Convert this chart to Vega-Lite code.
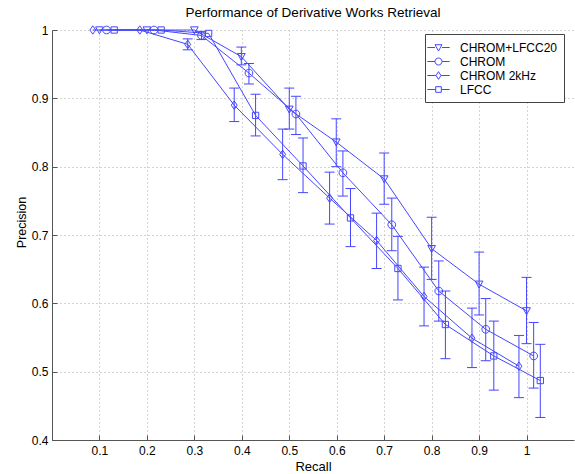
{
  "$schema": "https://vega.github.io/schema/vega-lite/v6.json",
  "width": 522,
  "height": 410,
  "autosize": {"type": "none"},
  "padding": {"left": 52, "top": 30, "right": 1, "bottom": 34},
  "background": "white",
  "title": {"text": "Performance of Derivative Works Retrieval", "font": "Liberation Sans", "fontSize": 13.5, "fontWeight": "normal", "color": "black", "offset": 4, "anchor": "middle"},
  "config": {
    "view": {"stroke": null},
    "axis": {"labelFont": "Liberation Sans", "titleFont": "Liberation Sans", "labelFontSize": 12, "titleFontSize": 13, "titleFontWeight": "normal", "labelColor": "black", "titleColor": "black", "domainColor": "#555", "tickColor": "#555", "gridColor": "#aaa", "gridDash": [1, 3], "gridWidth": 1}
  },
  "data": {"values": [
    {"series": "CHROM+LFCC20", "recall": 0.1, "precision": 1.0},
    {"series": "CHROM+LFCC20", "recall": 0.2, "precision": 1.0},
    {"series": "CHROM+LFCC20", "recall": 0.3, "precision": 1.0},
    {"series": "CHROM+LFCC20", "recall": 0.399, "precision": 0.961, "lo": 0.949, "hi": 0.975},
    {"series": "CHROM+LFCC20", "recall": 0.5, "precision": 0.884, "lo": 0.855, "hi": 0.915},
    {"series": "CHROM+LFCC20", "recall": 0.599, "precision": 0.836, "lo": 0.8, "hi": 0.87},
    {"series": "CHROM+LFCC20", "recall": 0.7, "precision": 0.782, "lo": 0.745, "hi": 0.82},
    {"series": "CHROM+LFCC20", "recall": 0.8, "precision": 0.68, "lo": 0.635, "hi": 0.726},
    {"series": "CHROM+LFCC20", "recall": 0.9, "precision": 0.628, "lo": 0.583, "hi": 0.675},
    {"series": "CHROM+LFCC20", "recall": 1.0, "precision": 0.589, "lo": 0.541, "hi": 0.638},
    {"series": "CHROM", "recall": 0.115, "precision": 1.0},
    {"series": "CHROM", "recall": 0.215, "precision": 1.0},
    {"series": "CHROM", "recall": 0.315, "precision": 0.992, "lo": 0.986, "hi": 0.998},
    {"series": "CHROM", "recall": 0.415, "precision": 0.937, "lo": 0.921, "hi": 0.951},
    {"series": "CHROM", "recall": 0.514, "precision": 0.877, "lo": 0.847, "hi": 0.903},
    {"series": "CHROM", "recall": 0.613, "precision": 0.791, "lo": 0.757, "hi": 0.823},
    {"series": "CHROM", "recall": 0.716, "precision": 0.715, "lo": 0.677, "hi": 0.754},
    {"series": "CHROM", "recall": 0.815, "precision": 0.618, "lo": 0.574, "hi": 0.662},
    {"series": "CHROM", "recall": 0.914, "precision": 0.562, "lo": 0.516, "hi": 0.607},
    {"series": "CHROM", "recall": 1.015, "precision": 0.523, "lo": 0.476, "hi": 0.572},
    {"series": "CHROM 2kHz", "recall": 0.086, "precision": 1.0},
    {"series": "CHROM 2kHz", "recall": 0.185, "precision": 1.0},
    {"series": "CHROM 2kHz", "recall": 0.286, "precision": 0.979, "lo": 0.971, "hi": 0.987},
    {"series": "CHROM 2kHz", "recall": 0.384, "precision": 0.89, "lo": 0.866, "hi": 0.915},
    {"series": "CHROM 2kHz", "recall": 0.486, "precision": 0.818, "lo": 0.781, "hi": 0.855},
    {"series": "CHROM 2kHz", "recall": 0.585, "precision": 0.754, "lo": 0.716, "hi": 0.792},
    {"series": "CHROM 2kHz", "recall": 0.684, "precision": 0.692, "lo": 0.651, "hi": 0.732},
    {"series": "CHROM 2kHz", "recall": 0.784, "precision": 0.61, "lo": 0.567, "hi": 0.653},
    {"series": "CHROM 2kHz", "recall": 0.885, "precision": 0.549, "lo": 0.506, "hi": 0.593},
    {"series": "CHROM 2kHz", "recall": 0.984, "precision": 0.508, "lo": 0.462, "hi": 0.553},
    {"series": "LFCC", "recall": 0.131, "precision": 1.0},
    {"series": "LFCC", "recall": 0.23, "precision": 1.0},
    {"series": "LFCC", "recall": 0.33, "precision": 0.995},
    {"series": "LFCC", "recall": 0.429, "precision": 0.875, "lo": 0.845, "hi": 0.906},
    {"series": "LFCC", "recall": 0.529, "precision": 0.801, "lo": 0.762, "hi": 0.842},
    {"series": "LFCC", "recall": 0.629, "precision": 0.725, "lo": 0.683, "hi": 0.768},
    {"series": "LFCC", "recall": 0.729, "precision": 0.651, "lo": 0.605, "hi": 0.698},
    {"series": "LFCC", "recall": 0.829, "precision": 0.569, "lo": 0.519, "hi": 0.618},
    {"series": "LFCC", "recall": 0.931, "precision": 0.523, "lo": 0.473, "hi": 0.574},
    {"series": "LFCC", "recall": 1.029, "precision": 0.487, "lo": 0.433, "hi": 0.54}
  ]},
  "encoding": {
    "x": {"field": "recall", "type": "quantitative", "scale": {"domain": [0, 1.1], "nice": false, "zero": false},
      "axis": {"title": "Recall", "values": [0.1, 0.2, 0.3, 0.4, 0.5, 0.6, 0.7, 0.8, 0.9, 1.0], "format": ".1~f", "grid": true, "tickSize": -5, "labelPadding": 10, "titlePadding": 4}}
  },
  "layer": [
    {
      "mark": {"type": "line", "stroke": "#4545ff", "strokeWidth": 1},
      "encoding": {
        "y": {"field": "precision", "type": "quantitative", "scale": {"domain": [0.4, 1.0], "nice": false, "zero": false},
          "axis": {"title": "Precision", "titleFontSize": 12.5, "titleY": 192, "values": [0.4, 0.5, 0.6, 0.7, 0.8, 0.9, 1.0], "format": ".1~f", "grid": true, "tickSize": -5, "labelPadding": 9, "titlePadding": 3}},
        "detail": {"field": "series", "type": "nominal"},
        "order": {"field": "recall", "type": "quantitative"}
      }
    },
    {
      "transform": [{"filter": "isValid(datum.lo)"}],
      "mark": {"type": "rule", "stroke": "#4545ff", "strokeWidth": 1},
      "encoding": {"y": {"field": "lo", "type": "quantitative"}, "y2": {"field": "hi"}}
    },
    {
      "transform": [{"filter": "isValid(datum.lo)"}],
      "mark": {"type": "tick", "orient": "horizontal", "color": "#4545ff", "size": 10, "thickness": 1, "opacity": 1},
      "encoding": {"y": {"field": "lo", "type": "quantitative"}}
    },
    {
      "transform": [{"filter": "isValid(datum.lo)"}],
      "mark": {"type": "tick", "orient": "horizontal", "color": "#4545ff", "size": 10, "thickness": 1, "opacity": 1},
      "encoding": {"y": {"field": "hi", "type": "quantitative"}}
    },
    {
      "mark": {"type": "point", "filled": false, "stroke": "#4545ff", "strokeWidth": 1, "size": 196, "opacity": 1},
      "encoding": {
        "y": {"field": "precision", "type": "quantitative"},
        "shape": {"field": "series", "type": "nominal", "legend": null,
          "scale": {"domain": ["CHROM+LFCC20", "CHROM", "CHROM 2kHz", "LFCC"],
            "range": ["M-0.55,-0.45H0.55L0,0.55Z", "M0.55,0A0.55,0.55,0,1,1,-0.55,0A0.55,0.55,0,1,1,0.55,0Z", "M0,-0.6L0.42,0L0,0.6L-0.42,0Z", "M-0.45,-0.45H0.45V0.45H-0.45Z"]}}
      }
    },
    {
      "mark": {"type": "point", "filled": false, "stroke": "#4545ff", "strokeWidth": 1, "size": 196, "strokeOpacity": 0},
      "encoding": {
        "y": {"field": "precision", "type": "quantitative"},
        "shape": {"field": "series", "type": "nominal",
          "scale": {"domain": ["CHROM+LFCC20", "CHROM", "CHROM 2kHz", "LFCC"],
            "range": ["M-1.6,0H-0.5M0.5,0H1.6M-0.5,-0.4H0.5L0,0.5Z", "M-1.6,0H-0.5M0.5,0H1.6M0.5,0A0.5,0.5,0,1,1,-0.5,0A0.5,0.5,0,1,1,0.5,0Z", "M-1.6,0H-0.35M0.35,0H1.6M0,-0.55L0.35,0L0,0.55L-0.35,0Z", "M-1.6,0H-0.4M0.4,0H1.6M-0.4,-0.4H0.4V0.4H-0.4Z"]},
          "legend": {"title": null, "orient": "none", "legendX": 373, "legendY": 4, "strokeColor": "#444", "fillColor": "white", "padding": 6, "symbolStrokeColor": "#4545ff", "symbolStrokeWidth": 1, "symbolOpacity": 1, "symbolSize": 196, "labelFont": "Liberation Sans", "labelFontSize": 12, "labelColor": "black", "labelOffset": 14, "rowPadding": 0,
            "encode": {"symbols": {"update": {"strokeOpacity": {"value": 1}, "opacity": {"value": 1}, "fill": {"value": "transparent"}}}}}
        }
      }
    }
  ],
  "resolve": {"scale": {"shape": "independent"}}
}
